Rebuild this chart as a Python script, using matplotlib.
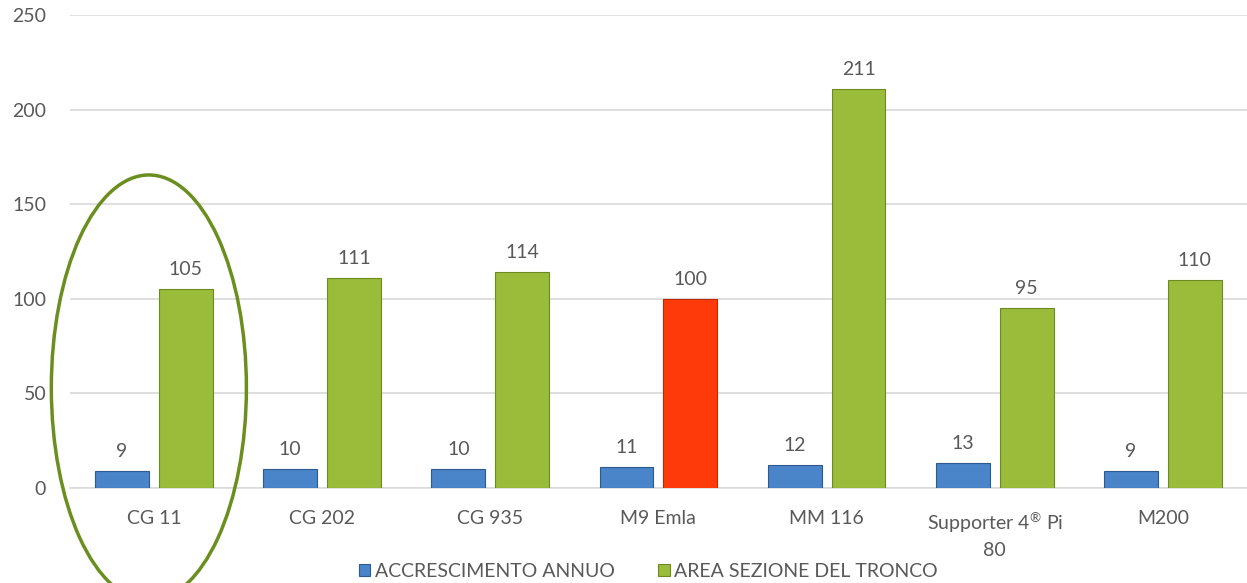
import numpy as np
import matplotlib.pyplot as plt
from matplotlib.patches import Ellipse

categories = ['CG 11', 'CG 202', 'CG 935', 'M9 Emla', 'MM 116', 'Supporter 4$^{\u00ae}$ Pi\n80', 'M200']
accrescimento = [9, 10, 10, 11, 12, 13, 9]
area_sezione = [105, 111, 114, 100, 211, 95, 110]
series_names = ['ACCRESCIMENTO ANNUO', 'AREA SEZIONE DEL TRONCO']

plt.rcParams['font.family'] = ['Lato', 'DejaVu Sans']
plt.rcParams['mathtext.fontset'] = 'custom'
plt.rcParams['mathtext.rm'] = 'Lato'
plt.rcParams['mathtext.default'] = 'rm'
grey = '#595959'
fs = 14

fig = plt.figure(figsize=(12.47, 5.83), dpi=100)
ax = fig.add_axes([0.056, 0.163, 0.944, 0.811])

x = np.arange(len(categories))
w = 0.32
off = 0.19

blue_c = ['#4a85c9'] * len(categories)
green_c = ['#9bbb3b'] * len(categories)
green_c[3] = '#ff3a0a'

b1 = ax.bar(x - off, accrescimento, w, color=blue_c, edgecolor='#2c5a8f', linewidth=0.8,
            label=series_names[0], zorder=3)
b2 = ax.bar(x + off, area_sezione, w, color=green_c, edgecolor='#6b8a22', linewidth=0.8,
            label=series_names[1], zorder=3)
b2[3].set_edgecolor('#c02800')

ax.bar_label(b1, padding=8, fontsize=fs, color=grey)
ax.bar_label(b2, padding=8, fontsize=fs, color=grey)

ax.set_xlim(-0.5, len(categories) - 0.5)
ax.set_ylim(0, 250)
ax.set_yticks(np.arange(0, 251, 50))
ax.set_xticks(x)
ax.set_xticklabels(categories, linespacing=1.5)
ax.tick_params(axis='both', length=0, labelsize=fs, labelcolor=grey)
ax.tick_params(axis='x', pad=16)
ax.tick_params(axis='y', pad=17)
ax.grid(axis='y', color='#d9d9d9', linewidth=1.2, zorder=0)
for s in ['top', 'right', 'left']:
    ax.spines[s].set_visible(False)
ax.spines['bottom'].set_color('#d9d9d9')
ax.spines['bottom'].set_linewidth(1.2)

# ellipse highlighting CG 11
ell = Ellipse((-0.03, 53), 1.16, 225, fill=False, edgecolor='#6a8f1e', linewidth=2.5,
              clip_on=False, zorder=4)
ax.add_patch(ell)

leg = fig.legend(handles=[b1, b2], loc='lower center', bbox_to_anchor=(0.52, -0.025),
                 ncol=2, frameon=False, fontsize=fs, handlelength=0.6, handleheight=0.6,
                 columnspacing=2.2, handletextpad=0.25)
for t in leg.get_texts():
    t.set_color(grey)
leg.legend_handles[1].set_facecolor('#9bbb3b')
leg.legend_handles[1].set_edgecolor('#6b8a22')

fig.savefig('out.png', dpi=100)
